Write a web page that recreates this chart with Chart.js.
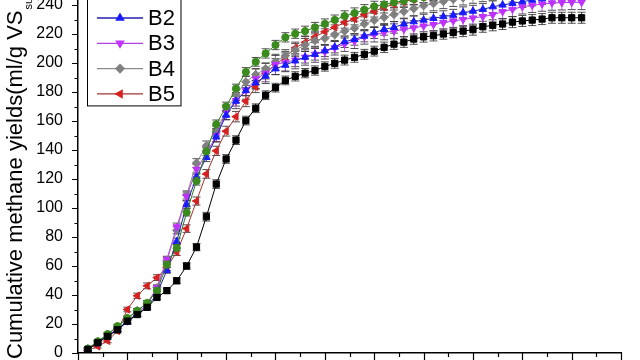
<!DOCTYPE html>
<html lang="en">
<head>
<meta charset="UTF-8">
<title>Cumulative methane yields</title>
<script src="https://cdn.jsdelivr.net/npm/chart.js"></script>
<style>
  html, body { margin: 0; padding: 0; background: #fff; overflow: hidden; }
  .frame { position: relative; width: 640px; height: 360px; overflow: hidden; }
  /* the figure is larger than the window; it is cropped at top and bottom like the source */
  .figure { position: absolute; left: 0; top: -80px; width: 640px; height: 493px; }
</style>
</head>
<body>
<div class="frame"><div class="figure"><canvas id="yieldChart"></canvas></div></div>

<script>
// digestion day of each measurement
const days = [1,2,3,4,5,6,7,8,9,10,11,12,13,14,15,16,17,18,19,20,21,22,23,24,25,26,27,28,29,30,
              31,32,33,34,35,36,37,38,39,40,41,42,43,44,45,46,47,48,49,50,51];

const seriesNames = ['CK', 'B1', 'B2', 'B3', 'B4', 'B5'];

// cumulative methane yield, ml/g VS substrate
const ckYield = [2.5,7,11.5,16,22,26.5,31.5,38.3,43,49.8,60,73,94,116.5,133.8,146.8,160.3,168.8,177.8,183,
                 188,190.8,193,194.8,197.6,199.8,202,203.9,206,208.2,210.8,213,214.4,216.5,218,218.8,220,221,222,223,
                 225,226,226.9,228.2,229,229.6,230.3,231.2,231.2,231.2,231.2];
const b1Yield = [3,8,13,18.5,24,29,34.5,43,61,72.5,97,118.6,139,157.7,170,182.4,193.8,200.8,206.6,212.4,
                 217.7,220.2,222,224.6,227,229.7,232.4,234.4,236.7,239,240.3,241.8,243,244.2,245.4,246.5,247.6,248.6,249.6,250.5,
                 251.4,252.2,253,253.7,254.4,255,255.6,256.1,256.6,257,257.4];
const b2Yield = [2.5,7.5,12,16,21.3,26.7,31.4,41,57,77,102.5,121.4,135,149,164,173.7,181,186.3,191,196,
                 198.5,201.5,204,206,208.4,211,214.7,216.3,218.6,220.9,223.2,224.6,226.9,228.5,229.6,230.8,232,233,234.7,235.8,
                 237,238.8,240,241.2,242.3,243.4,244.3,245.2,246,246.8,247.5];
const b3Yield = [2.5,7,12,16.5,22,27.5,33,45,64.5,87,108,126.7,137.5,150,166,174,181,189,192.8,199,
                 200.5,202,204,206,207.7,210.5,213,215,218,219.5,221,222,223.2,224.2,225.5,226.5,227.8,229,230,231,
                 232,233.2,235.4,237,238.8,239.8,240.7,241.4,241.6,241.8,241.8];
const b4Yield = [3,8,13,18,24,29.3,34.4,45,64,84.6,109,131,143,153,167,178,187,192,196,201,
                 205,209,212.5,215.5,217,219.5,222,224,227,229.5,231.5,233.5,235.5,237.5,239.5,241,242.5,244,245,246.2,
                 247.3,248.4,249.4,250.4,251.3,252.2,253,253.8,254.5,255.2,255.8];
const b5Yield = [1.7,4.5,8.3,15.2,30,39.5,46.3,52,59,69.6,85.8,104.8,123.5,139.4,153,163,173.7,183.6,193,199,
                 204,210.4,214.2,218,221.5,224.5,228,230.3,233.5,235.7,238.5,240.5,242.3,244,245.5,247,248.3,249.5,250.6,251.6,
                 252.6,253.5,254.3,255,255.7,256.3,256.9,257.4,257.9,258.3,258.7];

// standard deviations shown as error bars
const ckErr = [0.8,1,1,1.2,1.2,1.3,1.4,1.5,1.8,2,2.2,2.5,3,3,3,3,3,3,3,3,
               3,3.2,3.2,3.2,3.2,3.4,3.4,3.4,3.4,3.4,3.6,3.6,3.6,3.6,3.6,3.6,3.6,3.6,3.8,3.8,
               3.8,3.8,3.8,3.8,3.8,3.8,3.8,3.8,3.8,3.8,3.8];
const b1Err = [0.8,1,1.2,1.2,1.4,1.5,1.6,1.8,2,2.2,2.5,2.8,3,3,3,3,3,3,3.2,3.2,
               3.2,3.2,3.4,3.4,3.4,3.4,3.6,3.6,3.6,3.6,3.6,3.8,3.8,3.8,3.8,3.8,3.8,4,4,4,
               4,4,4,4,4,4,4,4,4,4,4];
const b2Err = [0.8,1,1.2,1.2,1.4,1.5,1.6,1.8,2,2.2,2.5,2.8,3,3.2,3.2,3.4,3.6,3.8,4,4,
               4,4,4,4,4,4,4,4,4,4,4,4,4,4,4,4,4,4,4,4,
               4,4,4,4,4,4,4,4,4,4,4];
const b3Err = [0.8,1,1.2,1.2,1.4,1.5,1.6,1.8,2.2,2.6,3,3.4,4,4.5,5,5.5,6,7,7,7,
               6.5,6,5.5,5.5,5,5,5,5,5,5,5,5,5,5,5,5,5,5,5,5,
               5,5,5,5,5,5,5,5,5,5,5];
const b4Err = [0.8,1,1.2,1.2,1.4,1.5,1.6,1.8,2,2.4,2.8,3,3.2,3.4,3.6,3.8,4,4,4,4.2,
               4.2,4.4,4.4,4.6,4.6,4.6,4.8,4.8,4.8,4.8,5,5,5,5,5,5,5,5,5,5,
               5,5,5,5,5,5,5,5,5,5,5];
const b5Err = [0.8,1,1.2,1.4,1.6,1.8,2,2,2.2,2.4,2.6,2.8,3,3.2,3.4,3.6,3.8,4,4,4,
               4,4,4,4,4,4,4,4,4,4,4,4,4,4,4,4,4,4,4,4,
               4,4,4,4,4,4,4,4,4,4,4];

const yieldSets = [ckYield, b1Yield, b2Yield, b3Yield, b4Yield, b5Yield];
const errSets = [ckErr, b1Err, b2Err, b3Err, b4Err, b5Err];

const lineColors  = ['#000000', '#2f7a1a', '#2020b0', '#b040e8', '#8a8a8a', '#a83232'];
const pointColors = ['#000000', '#3a8a1e', '#1a1aff', '#c030ff', '#808080', '#d62020'];
const pointStyles = ['rect', 'circle', 'triangle', 'triangle', 'rectRot', 'triangle'];
const pointRotations = [0, 0, 0, 180, 0, -90];
const pointSizes = [4.4, 3.6, 4.2, 4.2, 4.2, 4.2];

const yTitle = 'Cumulative methane yields(ml/g VS';
const yTitleSub = 'substrate';
const FONT = '"Liberation Sans", Arial, sans-serif';

// error bars under the markers
const errorBars = {
  id: 'errorBars',
  beforeDatasetsDraw(chart) {
    const ctx = chart.ctx;
    const y = chart.scales.y;
    const area = chart.chartArea;
    ctx.save();
    ctx.beginPath();
    ctx.rect(area.left, area.top, area.right - area.left, area.bottom - area.top);
    ctx.clip();
    chart.data.datasets.forEach((ds, di) => {
      const meta = chart.getDatasetMeta(di);
      const errs = errSets[di];
      meta.data.forEach((pt, i) => {
        if (errs[i] === undefined) return;
        const v = yieldSets[di][i];
        const top = y.getPixelForValue(v + errs[i]);
        const bot = y.getPixelForValue(v - errs[i]);
        ctx.strokeStyle = lineColors[di];
        ctx.globalAlpha = 0.85;
        ctx.lineWidth = 1;
        ctx.beginPath();
        ctx.moveTo(pt.x, top);
        ctx.lineTo(pt.x, bot);
        ctx.stroke();
        ctx.strokeStyle = '#333';
        ctx.beginPath();
        ctx.moveTo(pt.x - 4, top); ctx.lineTo(pt.x + 4, top);
        ctx.moveTo(pt.x - 4, bot); ctx.lineTo(pt.x + 4, bot);
        ctx.stroke();
      });
    });
    ctx.restore();
  }
};

// major and minor tick marks, legend box and the y title with its subscript
const decorations = {
  id: 'decorations',
  afterDraw(chart) {
    const ctx = chart.ctx;
    const {x, y} = chart.scales;
    const area = chart.chartArea;
    ctx.save();
    ctx.strokeStyle = '#000';
    ctx.lineWidth = 1.2;
    ctx.beginPath();
    for (let v = 0; v <= 280; v += 10) {
      const py = Math.round(y.getPixelForValue(v)) + 0.5;
      const len = v % 20 === 0 ? 6 : 3.5;
      ctx.moveTo(area.left, py);
      ctx.lineTo(area.left - len, py);
    }
    for (let v = 0; v <= 55; v += 2.5) {
      const px = Math.round(x.getPixelForValue(v)) + 0.5;
      const len = v % 5 === 0 ? 7 : 4;
      ctx.moveTo(px, area.bottom);
      ctx.lineTo(px, area.bottom + len);
    }
    ctx.stroke();

    // legend
    const boxL = area.left + 9.5, boxR = area.left + 103;
    const boxT = area.top + 8, rowH = 25.3;
    const firstRow = boxT + 12.4;
    const boxB = firstRow + rowH * 5 + 12;
    ctx.lineWidth = 1;
    ctx.strokeStyle = '#000';
    ctx.strokeRect(boxL, boxT, boxR - boxL, boxB - boxT);
    ctx.font = '22px ' + FONT;
    ctx.textBaseline = 'middle';
    ctx.textAlign = 'left';
    seriesNames.forEach((name, i) => {
      const ry = firstRow + rowH * i;
      ctx.strokeStyle = lineColors[i];
      ctx.lineWidth = 1.3;
      ctx.beginPath();
      ctx.moveTo(area.left + 19, ry);
      ctx.lineTo(area.left + 65, ry);
      ctx.stroke();
      ctx.fillStyle = pointColors[i];
      ctx.strokeStyle = pointColors[i];
      Chart.helpers.drawPoint(ctx, {
        pointStyle: pointStyles[i], rotation: pointRotations[i],
        radius: pointSizes[i], borderWidth: 1
      }, area.left + 42, ry);
      ctx.fillStyle = '#000';
      ctx.fillText(name, area.left + 70, ry + 1);
    });

    // y axis title with subscript
    ctx.translate(22, area.bottom + 6);
    ctx.rotate(-Math.PI / 2);
    ctx.fillStyle = '#000';
    ctx.textBaseline = 'alphabetic';
    ctx.font = '22px ' + FONT;
    ctx.fillText(yTitle, 0, 0);
    const w = ctx.measureText(yTitle).width;
    ctx.font = '11px ' + FONT;
    ctx.fillText(yTitleSub, w + 1, 10);
    const ws = ctx.measureText(yTitleSub).width;
    ctx.font = '22px ' + FONT;
    ctx.fillText(')', w + ws + 2, 0);
    ctx.restore();
  }
};

const datasets = seriesNames.map((name, i) => ({
  label: name,
  data: days.map((d, k) => ({x: d, y: yieldSets[i][k]})),
  borderColor: lineColors[i],
  borderWidth: 1,
  backgroundColor: pointColors[i],
  pointBackgroundColor: pointColors[i],
  pointBorderColor: pointColors[i],
  pointBorderWidth: 1,
  pointStyle: pointStyles[i],
  rotation: pointRotations[i],
  pointRadius: pointSizes[i],
  tension: 0,
  fill: false
}));

new Chart(document.getElementById('yieldChart'), {
  type: 'line',
  data: {datasets: datasets},
  options: {
    responsive: true,
    maintainAspectRatio: false,
    animation: false,
    layout: {padding: {top: 27, right: 14, bottom: 0, left: 0}},
    plugins: {legend: {display: false}, tooltip: {enabled: false}},
    scales: {
      x: {
        type: 'linear', min: 0, max: 55,
        ticks: {stepSize: 5, color: '#000', padding: 10, font: {family: FONT, size: 16}},
        grid: {display: true, drawOnChartArea: false, drawTicks: false},
        border: {display: true, color: '#000', width: 1.5},
        afterFit: s => { s.height = 60; }
      },
      y: {
        min: 0, max: 280,
        ticks: {stepSize: 20, color: '#000', padding: 15, font: {family: FONT, size: 16}},
        grid: {display: true, drawOnChartArea: false, drawTicks: false},
        border: {display: true, color: '#000', width: 1.5},
        afterFit: s => { s.width = 78; }
      }
    }
  },
  plugins: [errorBars, decorations]
});
</script>
</body>
</html>
